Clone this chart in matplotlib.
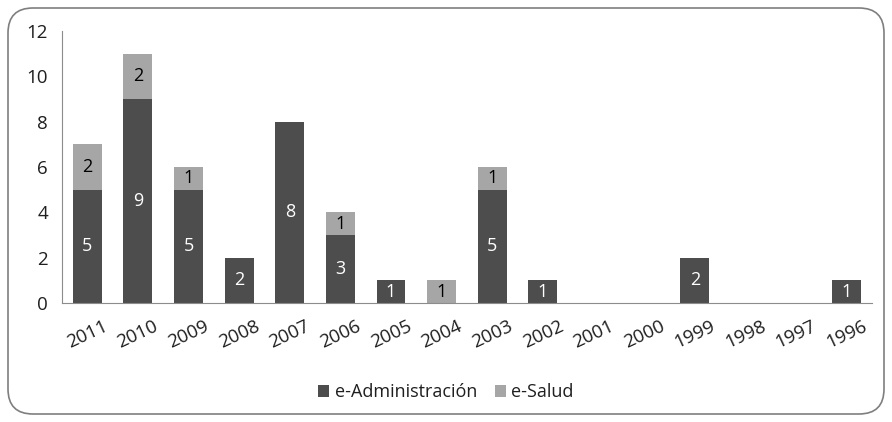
import matplotlib.pyplot as plt
from matplotlib.patches import FancyBboxPatch
import numpy as np

plt.rcParams['font.family'] = ['Open Sans', 'DejaVu Sans']

years = ['2011', '2010', '2009', '2008', '2007', '2006', '2005', '2004',
         '2003', '2002', '2001', '2000', '1999', '1998', '1997', '1996']
e_admin = [5, 9, 5, 2, 8, 3, 1, 0, 5, 1, 0, 0, 2, 0, 0, 1]
e_salud = [2, 2, 1, 0, 0, 1, 0, 1, 1, 0, 0, 0, 0, 0, 0, 0]

dark = '#4d4d4d'
light = '#a6a6a6'
txt = '#1f1f1f'

fig = plt.figure(figsize=(8.92, 4.22), dpi=100)
ax = fig.add_axes([0.0695, 0.282, 0.908, 0.6445])

x = np.arange(len(years))
w = 0.57
ax.bar(x, e_admin, w, color=dark, label='e-Administración')
ax.bar(x, e_salud, w, bottom=e_admin, color=light, label='e-Salud')

# value labels in the middle of each segment
for i in range(len(years)):
    if e_admin[i]:
        ax.text(x[i], e_admin[i] / 2, str(e_admin[i]), ha='center', va='center',
                color='white', fontsize=13)
    if e_salud[i]:
        ax.text(x[i], e_admin[i] + e_salud[i] / 2, str(e_salud[i]),
                ha='center', va='center', color='black', fontsize=13)

ax.set_xlim(-0.5, len(years) - 0.5)
ax.set_ylim(0, 12)
ax.set_yticks(range(0, 13, 2))
ax.set_xticks(x)
ax.set_xticklabels(years, rotation=25, ha='center')
ax.tick_params(length=0, labelsize=13.5, colors=txt)
ax.tick_params(axis='x', pad=10)
ax.tick_params(axis='y', pad=10)
for s in ['top', 'right']:
    ax.spines[s].set_visible(False)
ax.spines['left'].set_color('#8c8c8c')
ax.spines['bottom'].set_color('#8c8c8c')

fig.legend(loc='center', bbox_to_anchor=(0.5, 0.07), ncol=2, frameon=False,
           fontsize=13, handlelength=0.6, handleheight=0.6, handletextpad=0.3,
           columnspacing=1.0, labelcolor=txt)

frame = FancyBboxPatch((0.08, 0.08), 8.76, 4.06, boxstyle='round,pad=0,rounding_size=0.25',
                       transform=fig.dpi_scale_trans, fill=False, edgecolor='#7f7f7f',
                       linewidth=1.2)
fig.patches.append(frame)

fig.savefig('out.png', dpi=100)
